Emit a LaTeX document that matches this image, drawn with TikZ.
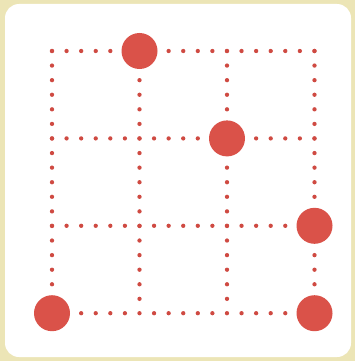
\documentclass[tikz,border=0pt]{standalone}
\usepackage{tikz}
\usetikzlibrary{positioning}
\definecolor{paper}{HTML}{ECE5B6}
\definecolor{dotred}{HTML}{CF4A42}
\definecolor{ballred}{HTML}{DA5249}
\tikzset{
  board/.style    = {fill=white, draw=none, rounded corners=14pt},
  gridline/.style = {dotred, line width=4.3pt, line cap=round,
                     dash pattern=on 0pt off 14.58pt},
  ball/.style     = {circle, fill=ballred, draw=none, minimum size=36pt,
                     inner sep=0pt},
}

\begin{document}
\begin{tikzpicture}[x=1pt, y=-1pt]
    \fill[paper] (0,0) rectangle (355,361);
    \useasboundingbox (0,0) rectangle (355,361);
    \fill[board] (5,4) rectangle (351,357);

    % grid points, 3x3 cells
    \foreach \i in {0,...,3}
      \foreach \j in {0,...,3}
        \coordinate (p\i\j) at ({52+87.5*\i},{51+87.4*\j});

    \foreach \k in {0,...,3} {
      \draw[gridline] (p0\k) -- (p3\k);
      \draw[gridline] (p\k0) -- (p\k3);
    }

    \node[ball] (b1) at (p10) {};
    \node[ball] (b2) at (p21) {};
    \node[ball] (b3) at (p32) {};
    \node[ball] (b4) at (p03) {};
    \node[ball] (b5) at (p33) {};
\end{tikzpicture}
\end{document}
